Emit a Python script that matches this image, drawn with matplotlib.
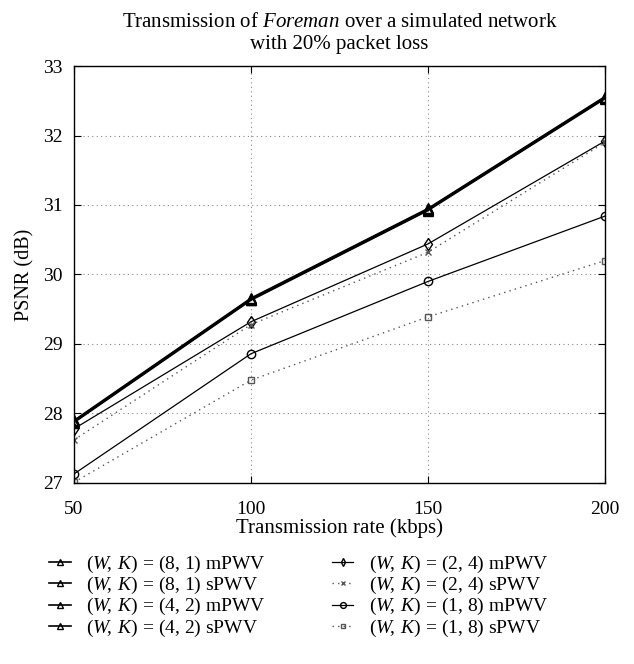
import matplotlib
matplotlib.use("Agg")
import matplotlib.pyplot as plt
from matplotlib import rcParams

rcParams["font.family"] = ["Liberation Serif", "DejaVu Serif"]
rcParams["mathtext.fontset"] = "custom"
rcParams["mathtext.rm"] = "Liberation Serif"
rcParams["mathtext.it"] = "Liberation Serif:italic"

# 传输速率 (kbps) 与 PSNR (dB)
rate = [50, 100, 150, 200]
psnr_81_m = [27.90, 29.66, 30.95, 32.56]
psnr_81_s = [27.89, 29.65, 30.94, 32.55]
psnr_42_m = [27.88, 29.64, 30.93, 32.54]
psnr_42_s = [27.87, 29.63, 30.92, 32.53]
psnr_24_m = [27.78, 29.32, 30.44, 31.92]
psnr_24_s = [27.62, 29.28, 30.32, 31.90]
psnr_18_m = [27.13, 28.86, 29.90, 30.84]
psnr_18_s = [27.01, 28.48, 29.39, 30.20]

labels = [r"$(W\!,\;K)$ = (8, 1) mPWV", r"$(W\!,\;K)$ = (8, 1) sPWV",
          r"$(W\!,\;K)$ = (4, 2) mPWV", r"$(W\!,\;K)$ = (4, 2) sPWV",
          r"$(W\!,\;K)$ = (2, 4) mPWV", r"$(W\!,\;K)$ = (2, 4) sPWV",
          r"$(W\!,\;K)$ = (1, 8) mPWV", r"$(W\!,\;K)$ = (1, 8) sPWV"]

fig = plt.figure(figsize=(6.34, 6.64), dpi=100)
ax = fig.add_axes([0.1167, 0.2726, 0.8375, 0.628])

tri = dict(color="black", marker="^", mfc="none", ms=7, lw=1.2)
ax.plot(rate, psnr_81_m, label=labels[0], **tri)
ax.plot(rate, psnr_81_s, label=labels[1], **tri)
ax.plot(rate, psnr_42_m, label=labels[2], **tri)
ax.plot(rate, psnr_42_s, label=labels[3], **tri)
ax.plot(rate, psnr_24_m, color="black", marker="d", mfc="none", ms=6, lw=0.9, label=labels[4])
ax.plot(rate, psnr_24_s, color="#555555", marker="x", ms=4, lw=1.0, ls=(0, (1, 3)), label=labels[5])
ax.plot(rate, psnr_18_m, color="black", marker="o", mfc="none", ms=6, lw=0.9, label=labels[6])
ax.plot(rate, psnr_18_s, color="#555555", marker="s", mfc="none", ms=5, lw=1.0, ls=(0, (1, 3)), label=labels[7])

ax.set_xlim(50, 200)
ax.set_ylim(27, 33)
ax.set_xticks(rate)
ax.set_yticks(range(27, 34))
ax.tick_params(direction="in", top=True, right=True, labelsize=14, length=5)
ax.tick_params(axis="x", pad=13)
ax.tick_params(axis="y", pad=8)
ax.grid(True, color="#888888", ls=(0, (1, 3)), lw=0.8)
for s in ax.spines.values():
    s.set_linewidth(1.0)

ax.set_xlabel("Transmission rate (kbps)", fontsize=15, labelpad=0)
ax.set_ylabel("PSNR (dB)", fontsize=14.5, labelpad=6)
ax.set_title("Transmission of $\\mathit{Foreman}$ over a simulated network\nwith 20% packet loss",
             fontsize=15, pad=12, linespacing=1.25)

fig.legend(loc="lower left", bbox_to_anchor=(0.05, 0.012), ncol=2, frameon=False,
           fontsize=14, handlelength=1.1, handletextpad=0.8, labelspacing=0.0,
           columnspacing=3.4, markerscale=0.7)

plt.savefig("out.png", dpi=100)
plt.close()
